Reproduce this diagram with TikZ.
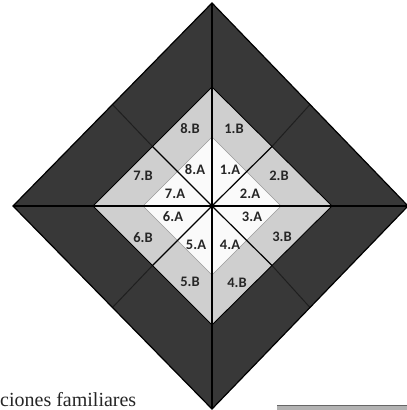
\documentclass[tikz,border=0pt]{standalone}
\usepackage{fontspec}
\setmainfont{Liberation Serif}
\newfontfamily\lblfont{Carlito}
\usetikzlibrary{calc}
\definecolor{bandcol}{gray}{0.22}
\definecolor{lightcol}{gray}{0.81}
\definecolor{whitecol}{gray}{0.98}
\tikzset{
  ray/.style={draw=black, line width=1.2pt},
  dray/.style={draw=black!88, line width=1pt},
  lbl/.style={font=\lblfont\bfseries\fontsize{14.5}{14.5}\selectfont, text=black!85, inner sep=0pt},
  edgeline/.style={draw=black, line width=1.2pt, line join=miter},
}
\begin{document}
\begin{tikzpicture}[x=1pt,y=-1pt]
\useasboundingbox (0,0) rectangle (407,410);
\fill[white] (0,0) rectangle (407,410);
% key points
\coordinate (C) at (212,206);
\coordinate (O1) at (212,3);
\coordinate (O2) at (408,206);
\coordinate (O3) at (212,409);
\coordinate (O4) at (13,206);
\coordinate (L1) at (212,87);
\coordinate (L2) at (332,206);
\coordinate (L3) at (212,325);
\coordinate (L4) at (93,206);
\coordinate (W1) at (212,137);
\coordinate (W2) at (281,206);
\coordinate (W3) at (212,275);
\coordinate (W4) at (143,206);
% regions
\fill[bandcol] (O1) -- (O2) -- (O3) -- (O4) -- cycle;
\fill[lightcol] (L1) -- (L2) -- (L3) -- (L4) -- cycle;
\fill[whitecol] (W1) -- (W2) -- (W3) -- (W4) -- cycle;
\draw[draw=black!40, line width=0.6pt] (W1) -- (W2) -- (W3) -- (W4) -- cycle;
% diagonal rays (to edge midpoints)
\draw[dray] ($(L1)!.5!(L2)$) -- ($(O1)!.5!(O2)$);
\draw[dray] ($(L2)!.5!(L3)$) -- ($(O2)!.5!(O3)$);
\draw[dray] ($(L3)!.5!(L4)$) -- ($(O3)!.5!(O4)$);
\draw[dray] ($(L4)!.5!(L1)$) -- ($(O4)!.5!(O1)$);
\draw[ray] (C) -- ($(L1)!.5!(L2)$);
\draw[ray] (C) -- ($(L2)!.5!(L3)$);
\draw[ray] (C) -- ($(L3)!.5!(L4)$);
\draw[ray] (C) -- ($(L4)!.5!(L1)$);
% main rays (to vertices)
\draw[ray] (O1) -- (O3);
\draw[ray] (O4) -- (O2);
% diamond edges
\draw[draw=black, line width=0.9pt] (L1) -- (L2) -- (L3) -- (L4) -- cycle;
\draw[edgeline] (O1) -- (O2) -- (O3) -- (O4) -- cycle;
\fill[black] (C) circle (2.2);
% labels
\node[lbl] (n8B) at (190,129) {8.B};
\node[lbl] (n1B) at (234,129) {1.B};
\node[lbl] (n7B) at (143,176) {7.B};
\node[lbl] (n8A) at (195,170) {8.A};
\node[lbl] (n1A) at (230,170) {1.A};
\node[lbl] (n2B) at (279,176) {2.B};
\node[lbl] (n7A) at (175,194) {7.A};
\node[lbl] (n2A) at (250,194) {2.A};
\node[lbl] (n6A) at (173,217) {6.A};
\node[lbl] (n3A) at (252,217) {3.A};
\node[lbl] (n6B) at (143,238) {6.B};
\node[lbl] (n5A) at (196,245) {5.A};
\node[lbl] (n4A) at (230,245) {4.A};
\node[lbl] (n3B) at (282,237) {3.B};
\node[lbl] (n5B) at (190,282) {5.B};
\node[lbl] (n4B) at (237,283) {4.B};
% caption fragment and bar
\node[anchor=base west, inner sep=0pt, font=\fontsize{20}{20}\selectfont, text=black!85] (cap) at (0,406) {ciones familiares};
\fill[black!30] (277,405.5) rectangle (407,410);
\draw[black!60, line width=0.8pt] (277,405.5) -- (407,405.5);
\end{tikzpicture}
\end{document}
